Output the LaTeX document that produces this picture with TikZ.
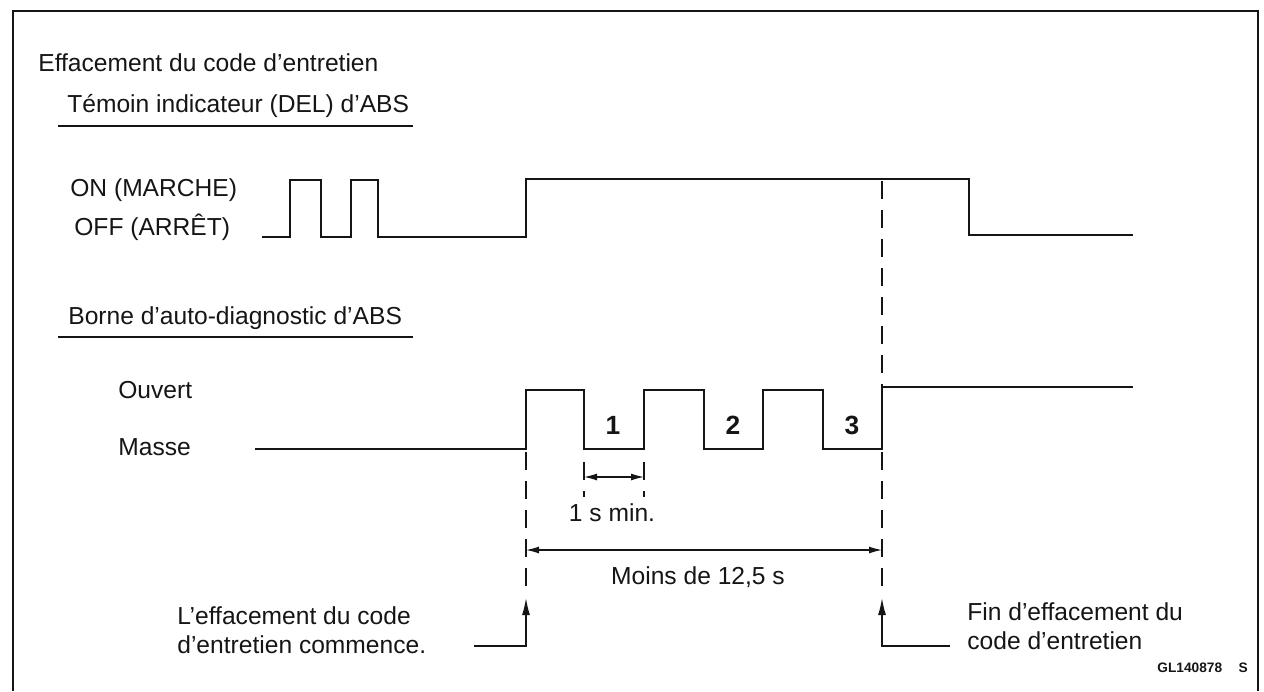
\documentclass[tikz,border=0pt]{standalone}
\usepackage{fontspec}
\setmainfont{Liberation Sans}
\usepackage{tikz}
\usetikzlibrary{
  arrows.meta,
  positioning,
  calc,
}
\definecolor{ink}{HTML}{151515}
\tikzset{
  frameline/.style={draw=ink, line width=1.3pt},
  signal/.style={draw=ink, line width=1.1pt, line join=miter},
  guide/.style={draw=ink, line width=1pt, dash pattern=on 0.36cm off 0.22cm},
  rule/.style={draw=ink, line width=0.9pt},
  dimarrow/.style={
    {Latex[length=2.6mm,width=1.4mm]}-{Latex[length=2.6mm,width=1.4mm]},
    draw=ink, line width=0.7pt,
  },
  callarrow/.style={
    -{Latex[length=3.4mm,width=1.6mm]}, draw=ink, line width=0.8pt,
  },
  txt/.style={
    anchor=west, inner sep=0pt, text=ink, align=left,
    font=\fontsize{14}{16.5}\selectfont,
  },
  midtxt/.style={txt, anchor=center},
  numtxt/.style={
    anchor=center, inner sep=0pt, text=ink,
    font=\fontsize{15}{17}\selectfont\bfseries,
  },
  reftxt/.style={
    anchor=west, inner sep=0pt, text=ink,
    font=\fontsize{7.8}{9}\selectfont\bfseries,
  },
}

\begin{document}
\begin{tikzpicture}[x=0.02cm, y=-0.02cm]
\useasboundingbox (0,0) rectangle (1264,691);

% frame (bottom edge outside the picture)
\draw[frameline] (13,691) -- (13,11) -- (1258,11) -- (1258,691);

% titles
\node[txt] (title) at (38,63) {Effacement du code d'entretien};
\node[txt] (ledHead) at (67,106) {Témoin indicateur (DEL) d'ABS};
\draw[rule] (58,126) -- (413,126);
\node[txt] (onLbl) at (70,190) {ON (MARCHE)};
\node[txt] (offLbl) at (74,227) {OFF (ARRÊT)};

\node[txt] (termHead) at (68,318) {Borne d'auto-diagnostic d'ABS};
\draw[rule] (58,337) -- (413,337);
\node[txt] (openLbl) at (118,390) {Ouvert};
\node[txt] (gndLbl) at (118,447) {Masse};

% LED signal
\draw[signal] (262,237) -- (290,237) -- (290,180) -- (321,180) -- (321,237)
  -- (351,237) -- (351,180) -- (378,180) -- (378,237) -- (526,237)
  -- (526,179) -- (969,179) -- (969,235) -- (1133,235);

% terminal signal
\draw[signal] (255,449) -- (526,449) -- (526,390) -- (584,390) -- (584,449)
  -- (644,449) -- (644,390) -- (704,390) -- (704,449) -- (763,449)
  -- (763,390) -- (823,390) -- (823,449) -- (882,449) -- (882,387)
  -- (1133,387);

\foreach \n/\x in {1/613, 2/733, 3/852}
  \node[numtxt] (num\n) at (\x,425) {\n};

% guides
\draw[guide] (882,181) -- (882,386);
\draw[guide] (882,452) -- (882,590);
\draw[guide] (526,452) -- (526,590);
\draw[guide] (584,462) -- (584,497);
\draw[guide] (644,462) -- (644,497);

% 1 s min.
\coordinate (sA) at (584,477);
\coordinate (sB) at (644,477);
\draw[dimarrow] (sA) -- (sB);
\node[midtxt] (secLbl) at (612,513) {1 s min.};

% Moins de 12,5 s
\coordinate (mA) at (526,550);
\coordinate (mB) at (882,550);
\draw[dimarrow] (mA) -- (mB);
\node[midtxt] (durLbl) at (698,577) {Moins de 12,5 s};

% callouts
\node[txt] (startLbl) at (177,630) {L'effacement du code\\d'entretien commence.};
\node[txt] (endLbl) at (967,626) {Fin d'effacement du\\code d'entretien};

\coordinate (startFoot) at (474,646);
\coordinate (startTip) at (526,598);
\coordinate (endFoot) at (950,646);
\coordinate (endTip) at (882,598);
\draw[callarrow] (startFoot) -| (startTip);
\draw[callarrow] (endFoot) -| (endTip);

\node[reftxt] (refCode) at (1157,668) {GL140878\hspace{1.2em}S};

\end{tikzpicture}
\end{document}
